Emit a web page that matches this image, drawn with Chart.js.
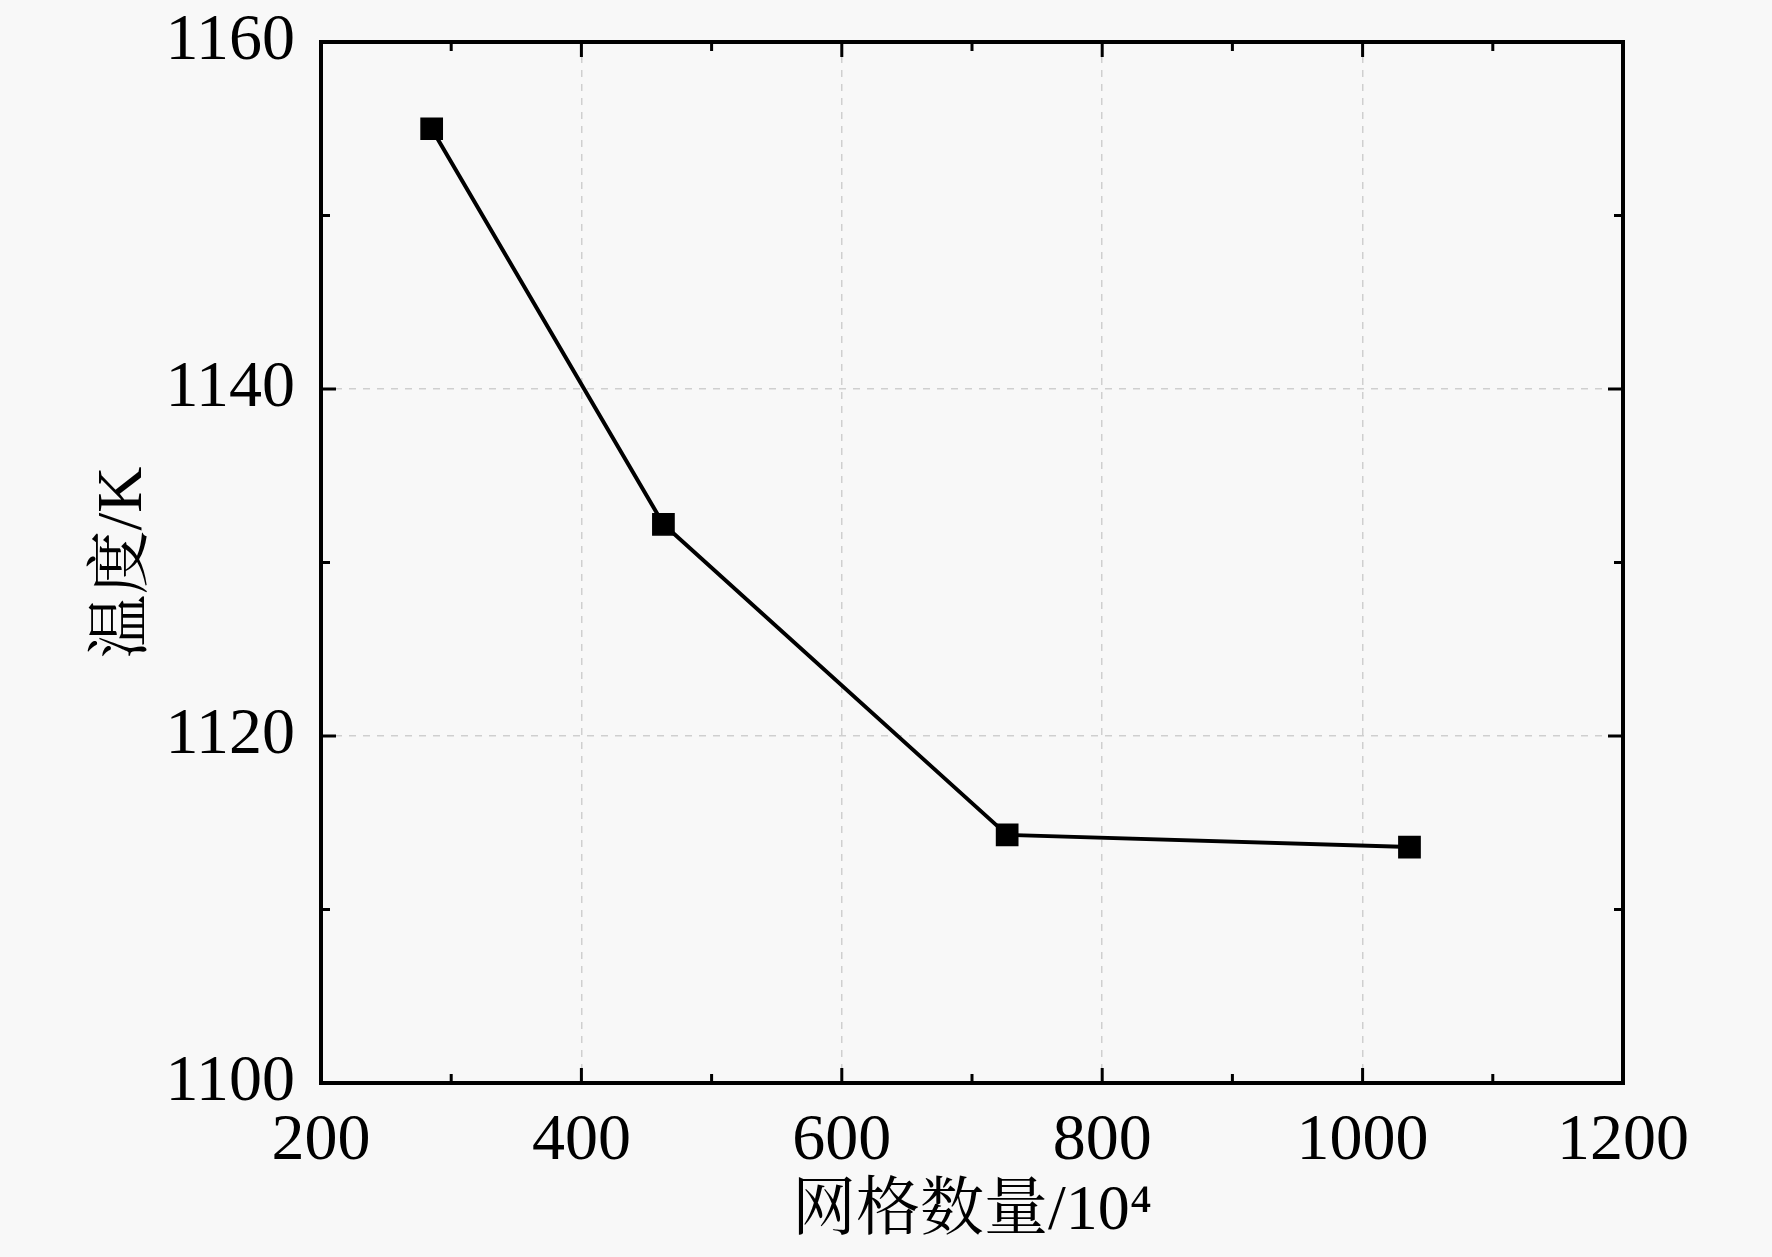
<!DOCTYPE html>
<html>
<head>
<meta charset="utf-8">
<script src="https://cdn.jsdelivr.net/npm/chart.js@4.4.1/dist/chart.umd.min.js"></script>
<style>
    html, body { margin: 0; padding: 0; background: #f8f8f8; }
    #wrap { width: 1772px; height: 1257px; position: relative; }
</style>
</head>
<body>
<div id="wrap"><canvas id="meshChart"></canvas></div>
<script>
// mesh independence check: temperature vs grid count
const gridCounts = [285, 463, 727, 1036];
const temperatures = [1155.0, 1132.2, 1114.3, 1113.6];
const xTickLabels = [200, 400, 600, 800, 1000, 1200];
const yTickLabels = [1100, 1120, 1140, 1160];

const serif = '"Liberation Serif", "Noto Serif CJK SC", "Noto Sans CJK SC", serif';

// draws the closed frame and the inward major/minor ticks on all four sides
const frameTicks = {
    id: 'frameTicks',
    afterDraw(chart) {
        const {ctx, chartArea: a, scales} = chart;
        ctx.save();
        ctx.strokeStyle = '#000';
        ctx.lineWidth = 3;
        scales.x.ticks.forEach(t => {
            const px = scales.x.getPixelForValue(t.value);
            const len = xTickLabels.includes(t.value) ? 15 : 9;
            ctx.beginPath();
            ctx.moveTo(px, a.bottom); ctx.lineTo(px, a.bottom - len);
            ctx.moveTo(px, a.top); ctx.lineTo(px, a.top + len);
            ctx.stroke();
        });
        scales.y.ticks.forEach(t => {
            const py = scales.y.getPixelForValue(t.value);
            const len = yTickLabels.includes(t.value) ? 15 : 9;
            ctx.beginPath();
            ctx.moveTo(a.left, py); ctx.lineTo(a.left + len, py);
            ctx.moveTo(a.right, py); ctx.lineTo(a.right - len, py);
            ctx.stroke();
        });
        ctx.lineWidth = 4;
        ctx.strokeRect(a.left, a.top, a.right - a.left, a.bottom - a.top);
        ctx.restore();
    }
};

const ctx = document.getElementById('meshChart').getContext('2d');
const meshChart = new Chart(ctx, {
    type: 'line',
    data: {
        datasets: [{
            data: gridCounts.map((g, i) => ({x: g, y: temperatures[i]})),
            borderColor: '#000',
            borderWidth: 4,
            backgroundColor: '#000',
            pointStyle: 'rect',
            pointRadius: 15,
            pointBorderWidth: 1.5,
            tension: 0,
            clip: false
        }]
    },
    options: {
        responsive: true,
        maintainAspectRatio: false,
        animation: false,
        layout: { padding: { top: 42, right: 149, left: 0, bottom: 0 } },
        plugins: { legend: { display: false }, tooltip: { enabled: false } },
        scales: {
            x: {
                type: 'linear',
                min: 200, max: 1200,
                afterFit(scale) {
                    scale.height = 174;
                    scale.paddingLeft = 0;
                    scale.paddingRight = 0;
                },
                border: { display: false, dash: [7, 7] },
                grid: {
                    drawTicks: false,
                    lineWidth: 1.5,
                    color: c => (xTickLabels.includes(c.tick.value) ? '#cfcfcf' : 'rgba(0,0,0,0)')
                },
                ticks: {
                    stepSize: 100,
                    autoSkip: false,
                    maxRotation: 0,
                    padding: 19,
                    color: '#000',
                    font: { family: serif, size: 66 },
                    callback: v => (xTickLabels.includes(v) ? String(v) : '')
                },
                title: {
                    display: true,
                    text: '网格数量/10⁴',
                    color: '#000',
                    font: { family: serif, size: 64 },
                    padding: { top: 0, bottom: 6 }
                }
            },
            y: {
                min: 1100, max: 1160,
                afterFit(scale) {
                    scale.width = 321;
                    scale.paddingTop = 0;
                    scale.paddingBottom = 0;
                },
                border: { display: false, dash: [7, 7] },
                grid: {
                    drawTicks: false,
                    lineWidth: 1.5,
                    color: c => (yTickLabels.includes(c.tick.value) ? '#cfcfcf' : 'rgba(0,0,0,0)')
                },
                ticks: {
                    stepSize: 10,
                    autoSkip: false,
                    padding: 26,
                    color: '#000',
                    font: { family: serif, size: 66 },
                    callback: v => (yTickLabels.includes(v) ? String(v) : '')
                },
                title: {
                    display: true,
                    text: '温度/K',
                    color: '#000',
                    font: { family: serif, size: 64 },
                    padding: { top: 86, bottom: 0 }
                }
            }
        }
    },
    plugins: [frameTicks]
});
</script>
</body>
</html>
